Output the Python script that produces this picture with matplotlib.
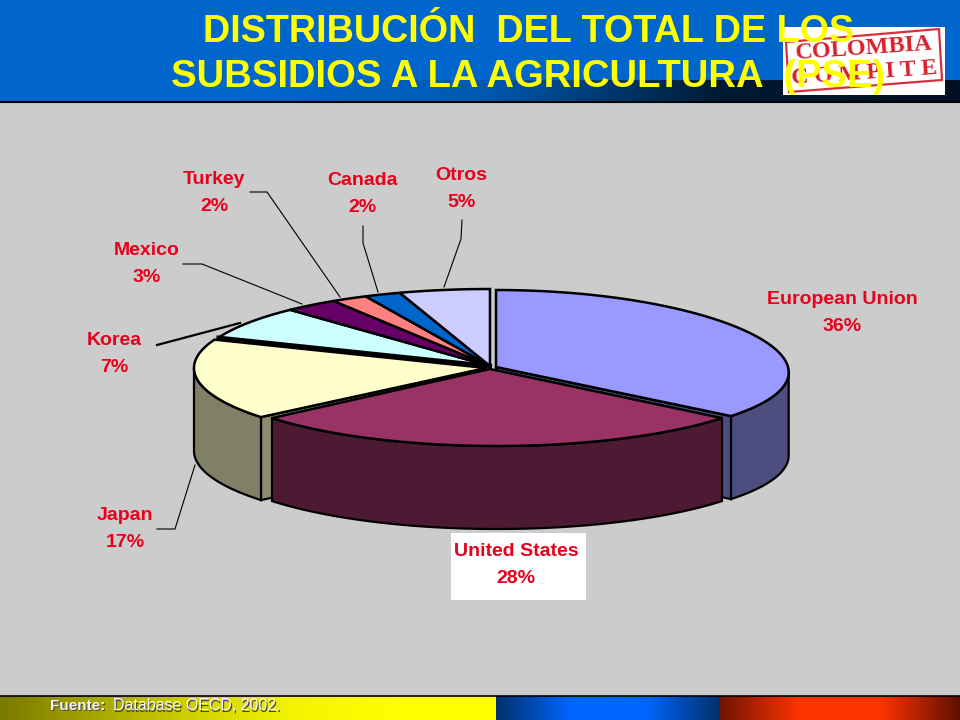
import matplotlib
matplotlib.use("Agg")
import matplotlib.pyplot as plt
from matplotlib.patches import Polygon, Rectangle
import numpy as np

plt.rcParams['font.family'] = ['Liberation Sans', 'DejaVu Sans']

paises = ['European Union', 'United States', 'Japan', 'Korea', 'Mexico', 'Turkey', 'Canada', 'Otros']
valores = [36, 28, 17, 7, 3, 2, 2, 5]
cores_topo = ['#9999FF', '#993366', '#FFFFCC', '#CCFFFF', '#660066', '#FF8080', '#0066CC', '#CCCCFF']
cores_lado = {'European Union': '#4D4D80', 'United States': '#4D1A33', 'Japan': '#808066'}
# vertice de cada fatia e centro do aro (diferem um pouco por causa da perspectiva)
vertices = [(496, 367), (490, 369), (486, 368), (490, 366), (490, 366), (490, 366), (490, 366), (490, 366)]
centros = [(496, 367), (497, 369), (486, 368), (490, 366), (490, 366), (490, 366), (490, 366), (490, 366)]
perspectiva = [0.07, 0, 0, 0, 0, 0, 0, 0]
pos_rotulos = [(842, 313), (516, 565), (125, 529), (114, 354), (147, 264), (214, 193), (362, 194), (461, 189)]

RX, RY, ALTURA = 292, 77, 83
VERMELHO = '#E8001C'


def aro(centro, a0, a1, dy=0, k=0):
    # angulos em graus, sentido horario a partir do topo
    t = np.radians(np.linspace(a0, a1, 80))
    return np.column_stack([centro[0] + RX * np.sin(t) * (1 - k * np.cos(t)),
                            centro[1] - RY * np.cos(t) + dy])


def gradiente(ax, cores, x0, x1, y0, y1, horizontal=True):
    rgb = np.array([matplotlib.colors.to_rgb(c) for c in cores])
    p = np.linspace(0, 1, 256)
    g = np.column_stack([np.interp(p, np.linspace(0, 1, len(cores)), rgb[:, i]) for i in range(3)])
    img = g[np.newaxis, :, :] if horizontal else g[:, np.newaxis, :]
    ax.imshow(img, extent=(x0, x1, y1, y0), aspect='auto', zorder=1)


fig = plt.figure(figsize=(9.6, 7.2), dpi=100, facecolor='#CCCCCC')
ax = fig.add_axes([0, 0, 1, 1])
ax.set_facecolor('#CCCCCC')

# Cabecalho
ax.add_patch(Rectangle((0, 0), 960, 80, fc='#0066CC', ec='none', zorder=1))
gradiente(ax, ['#0066CC', '#0066CC', '#005AB4', '#001A33', '#001020'], 0, 960, 80, 101)
ax.plot([0, 960], [101.5, 101.5], color='black', lw=1.5, zorder=2)

# Rodape
gradiente(ax, ['#7A7A00', '#A8A800', '#D4D400', '#F4F400', '#FFFF00', '#FFFF00'], 0, 496, 696, 720)
gradiente(ax, ['#00306A', '#0066FF', '#0066FF', '#00306A'], 496, 720, 696, 720)
gradiente(ax, ['#701400', '#FF3300', '#FF3300', '#601000'], 720, 960, 696, 720)
ax.plot([0, 960], [696, 696], color='black', lw=1.2, zorder=2)

# Pizza: angulos acumulados a partir das porcentagens
acum = np.concatenate([[0], np.cumsum(valores)]) * 360 / sum(valores)
ordem = [0, 2, 3, 4, 5, 6, 7, 1]
z = 3
for i in ordem:
    nome, v, c, k = paises[i], vertices[i], centros[i], perspectiva[i]
    a0, a1 = acum[i], acum[i + 1]
    if nome in cores_lado:
        cor = cores_lado[nome]
        # face de corte
        borda = a1 if nome == 'European Union' else a0
        p = aro(c, borda, borda, k=k)[0]
        if nome != 'United States':
            ax.add_patch(Polygon([v, p, (p[0], p[1] + ALTURA), (v[0], v[1] + ALTURA)],
                                 fc=cor if nome == 'European Union' else '#8C8C70',
                                 ec='black', lw=1.6, zorder=z))
            z += 1
        # parede externa, so a parte visivel (entre os extremos em x)
        arco = aro(c, a0, a1, k=k)
        ini = np.argmax(arco[:, 0]) if nome == 'European Union' else 0
        fim = np.argmin(arco[:, 0]) + 1 if nome == 'Japan' else len(arco)
        sup = arco[ini:fim]
        inf = sup[::-1] + [0, ALTURA]
        ax.add_patch(Polygon(np.vstack([sup, inf]), fc=cor, ec='black', lw=1.6, zorder=z))
        z += 1
    topo = np.vstack([[v], aro(c, a0, a1, k=k)])
    ax.add_patch(Polygon(topo, fc=cores_topo[i], ec='black', lw=1.8, joinstyle='miter', zorder=z))
    z += 1

# Separacao grossa entre Japan e Korea
ps = aro(centros[3], acum[3], acum[3])[0]
ax.plot([ps[0], vertices[3][0]], [ps[1], vertices[3][1]], color='black', lw=3, zorder=z)
z += 1

# Linhas de chamada
ax.plot([250, 267, 340], [192, 192, 297], color='black', lw=0.8, zorder=z)
ax.plot([363, 363, 378], [226, 243, 292], color='black', lw=0.8, zorder=z)
ax.plot([462, 461, 444], [220, 239, 287], color='black', lw=0.8, zorder=z)
ax.plot([183, 202, 302], [264, 264, 304], color='black', lw=0.8, zorder=z)
ax.plot([157, 240], [345, 323], color='black', lw=1.6, zorder=z)
ax.plot([157, 175, 195], [529, 529, 465], color='black', lw=0.8, zorder=z)

# Rotulos
ax.add_patch(Rectangle((451, 533), 135, 67, fc='white', ec='none', zorder=z))
for nome, val, (x, y) in zip(paises, valores, pos_rotulos):
    ax.text(x, y, f'{nome}\n{val}%', color=VERMELHO, fontsize=14, fontweight='bold',
            ha='center', va='center', linespacing=1.78, zorder=z + 1)

# Selo
ax.add_patch(Rectangle((783, 27), 162, 68, fc='white', ec='none', zorder=z + 2))
ax.add_patch(Polygon([(786, 42), (939, 29), (942, 80), (789, 92)], fc='none', ec='#D8303C', lw=1.6, zorder=z + 3))
ax.text(864, 49, 'COLOMBIA', color='#D8202C', fontsize=17.5, fontweight='bold', family='Liberation Serif',
        ha='center', va='center', rotation=4, zorder=z + 3)
ax.text(864, 73, 'C O M P I T E', color='#D8202C', fontsize=17, fontweight='bold', family='Liberation Serif',
        ha='center', va='center', rotation=4, zorder=z + 3)

# Titulo
ax.text(529, 42, 'DISTRIBUCIÓN  DEL TOTAL DE LOS', color='#FFFF00', fontsize=27.2, fontweight='bold',
        ha='center', va='baseline', zorder=z + 4)
ax.text(528, 87, 'SUBSIDIOS A LA AGRICULTURA  (PSE)', color='#FFFF00', fontsize=27.5, fontweight='bold',
        ha='center', va='baseline', zorder=z + 4)

# Fonte
for dx, dy, cor in [(1, 1, '#444444'), (0, 0, '#F4F4F4')]:
    ax.text(50 + dx, 706 + dy, 'Fuente:', color=cor, fontsize=11, fontweight='bold', va='center', zorder=z + 4)
    ax.text(113 + dx, 706 + dy, 'Database OECD, 2002.', color=cor, fontsize=11.5, va='center', zorder=z + 4)

ax.set_xlim(0, 960)
ax.set_ylim(720, 0)
ax.axis('off')

fig.savefig('out.png', dpi=100, facecolor=fig.get_facecolor())
